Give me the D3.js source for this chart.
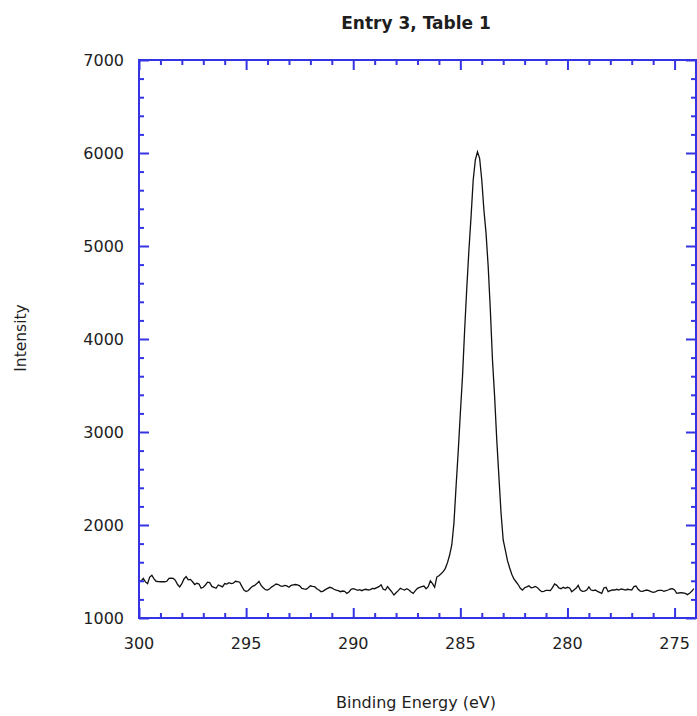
<!DOCTYPE html>
<html>
<head>
<meta charset="utf-8">
<script src="https://cdn.jsdelivr.net/npm/d3@7"></script>
<style>
  html, body { margin: 0; padding: 0; background: #ffffff; }
  svg { display: block; }
  text { font-family: "DejaVu Sans", sans-serif; fill: #1e1e1e; }
</style>
</head>
<body>
<svg id="chart" width="697" height="716"></svg>
<script>
// ---- data ----
const chartTitle = "Entry 3, Table 1";
const xLabel = "Binding Energy (eV)";
const yLabel = "Intensity";
const energyStart = 300;     // eV, first sample
const energyStep = 0.1;      // eV between samples (decreasing)
const intensity = [
  1400,1395,1425,1388,1370,1440,1460,1420,1395,1392,
  1390,1392,1390,1395,1425,1428,1425,1405,1360,1335,
  1370,1420,1445,1410,1415,1390,1360,1375,1365,1320,
  1330,1355,1385,1380,1340,1330,1320,1355,1345,1335,
  1370,1365,1380,1370,1375,1395,1390,1385,1340,1300,
  1285,1295,1320,1340,1350,1370,1395,1350,1325,1305,
  1300,1315,1335,1350,1365,1360,1345,1340,1350,1345,
  1330,1350,1355,1360,1355,1346,1319,1312,1309,1326,
  1346,1340,1337,1315,1301,1283,1290,1305,1319,1330,
  1323,1309,1301,1294,1283,1290,1287,1265,1280,1309,
  1315,1309,1298,1305,1294,1305,1309,1301,1305,1319,
  1315,1326,1337,1358,1309,1301,1337,1309,1280,1247,
  1272,1294,1319,1309,1301,1315,1301,1280,1265,1294,
  1319,1330,1337,1344,1315,1337,1400,1370,1330,1440,
  1455,1475,1498,1534,1595,1677,1785,2018,2412,2789,
  3201,3595,4095,4545,4957,5316,5710,5925,6014,5943,
  5710,5387,5136,4778,4312,3774,3380,2914,2520,2126,
  1839,1731,1616,1540,1470,1420,1390,1360,1320,1300,
  1325,1335,1346,1326,1330,1340,1326,1301,1283,1287,
  1298,1298,1294,1326,1366,1351,1323,1315,1330,1319,
  1330,1323,1283,1301,1319,1351,1301,1287,1290,1301,
  1334,1301,1294,1301,1287,1276,1265,1323,1330,1283,
  1294,1301,1301,1309,1301,1312,1309,1301,1309,1305,
  1301,1337,1344,1309,1290,1287,1294,1301,1294,1283,
  1276,1280,1294,1298,1298,1287,1294,1301,1312,1315,
  1301,1265,1269,1272,1269,1265,1251,1265,1287,1315
];
const xDomain = [300, 274];
const yDomain = [1000, 7000];
const xMajorTicks = [300, 295, 290, 285, 280, 275];
const yMajorTicks = [1000, 2000, 3000, 4000, 5000, 6000, 7000];
const xMinorStep = 1;
const yMinorStep = 200;

// ---- layout ----
const pLeft = 139, pRight = 696, pTop = 60, pBottom = 618;
const axisColor = "#3434e4";

const svg = d3.select("#chart");
const x = d3.scaleLinear().domain(xDomain).range([pLeft, pRight]);
const y = d3.scaleLinear().domain(yDomain).range([pBottom, pTop]);

const data = intensity.map((v, i) => ({ e: energyStart - i * energyStep, v }));

// clip
svg.append("defs").append("clipPath").attr("id", "plotclip")
  .append("rect").attr("x", pLeft).attr("y", pTop).attr("width", pRight - pLeft).attr("height", pBottom - pTop);

// line
const line = d3.line().x(d => x(d.e)).y(d => y(d.v));
svg.append("path")
  .datum(data)
  .attr("clip-path", "url(#plotclip)")
  .attr("fill", "none")
  .attr("stroke", "#111")
  .attr("stroke-width", 1.3)
  .attr("stroke-linejoin", "miter")
  .attr("d", line);

// minor tick values
const xMinor = d3.range(xDomain[1], xDomain[0] + 0.001, xMinorStep).filter(v => !xMajorTicks.includes(v) && v > xDomain[1] && v < xDomain[0]);
const yMinor = d3.range(yDomain[0], yDomain[1] + 0.001, yMinorStep).filter(v => !yMajorTicks.includes(v));

function drawAxis(axisGen, tr) {
  const g = svg.append("g").attr("transform", tr).call(axisGen);
  g.select(".domain").remove();
  g.selectAll("line").attr("stroke", axisColor).attr("stroke-width", 2);
  g.selectAll("text").remove();
  return g;
}
// bottom (inward ticks)
drawAxis(d3.axisTop(x).tickValues(xMajorTicks).tickSize(10), `translate(0,${pBottom})`);
drawAxis(d3.axisTop(x).tickValues(xMinor).tickSize(5), `translate(0,${pBottom})`);
// top
drawAxis(d3.axisBottom(x).tickValues(xMajorTicks).tickSize(10), `translate(0,${pTop})`);
drawAxis(d3.axisBottom(x).tickValues(xMinor).tickSize(5), `translate(0,${pTop})`);
// left
drawAxis(d3.axisRight(y).tickValues(yMajorTicks).tickSize(10), `translate(${pLeft},0)`);
drawAxis(d3.axisRight(y).tickValues(yMinor).tickSize(5), `translate(${pLeft},0)`);
// right
drawAxis(d3.axisLeft(y).tickValues(yMajorTicks).tickSize(10), `translate(${pRight},0)`);
drawAxis(d3.axisLeft(y).tickValues(yMinor).tickSize(5), `translate(${pRight},0)`);

// frame
svg.append("rect")
  .attr("x", pLeft).attr("y", pTop)
  .attr("width", pRight - pLeft).attr("height", pBottom - pTop)
  .attr("fill", "none").attr("stroke", axisColor).attr("stroke-width", 2);

// tick labels
svg.append("g").selectAll("text").data(xMajorTicks).join("text")
  .attr("x", d => x(d)).attr("y", 648.5)
  .attr("text-anchor", "middle").attr("font-size", 16)
  .text(d => d);
svg.append("g").selectAll("text").data(yMajorTicks).join("text")
  .attr("x", 124).attr("y", d => y(d) + 6)
  .attr("text-anchor", "end").attr("font-size", 16)
  .text(d => d);

// title
svg.append("text").attr("x", 416).attr("y", 28.5)
  .attr("text-anchor", "middle").attr("font-size", 17).attr("font-weight", "bold")
  .text(chartTitle);
// axis titles
svg.append("text").attr("x", 416).attr("y", 708)
  .attr("text-anchor", "middle").attr("font-size", 16)
  .text(xLabel);
svg.append("text").attr("transform", "translate(26,338) rotate(-90)")
  .attr("text-anchor", "middle").attr("font-size", 15.5)
  .text(yLabel);
</script>
</body>
</html>
